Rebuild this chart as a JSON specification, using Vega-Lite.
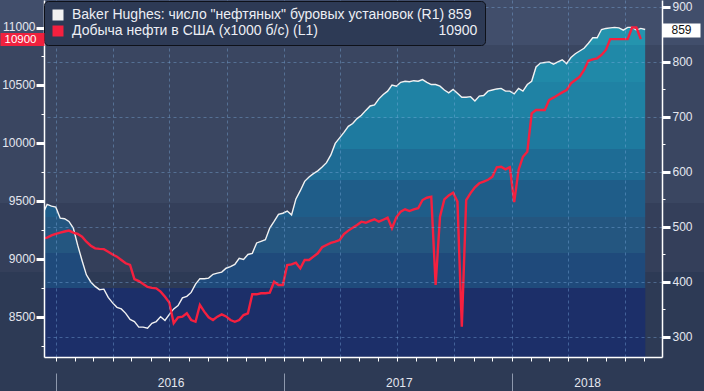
{
  "$schema": "https://vega.github.io/schema/vega-lite/v6.json",
  "width": 618,
  "height": 357,
  "autosize": {"type": "none"},
  "padding": {"left": 44, "top": 0, "right": 42, "bottom": 34},
  "background": "#2d3a55",
  "data": {
    "values": [
      {"date": "2015-12-11", "rigs": 524, "prod": 9180},
      {"date": "2015-12-18", "rigs": 541, "prod": 9185},
      {"date": "2015-12-25", "rigs": 538, "prod": 9205},
      {"date": "2016-01-01", "rigs": 536, "prod": 9218},
      {"date": "2016-01-08", "rigs": 516, "prod": 9228},
      {"date": "2016-01-15", "rigs": 515, "prod": 9238},
      {"date": "2016-01-22", "rigs": 510, "prod": 9246},
      {"date": "2016-01-29", "rigs": 498, "prod": 9228},
      {"date": "2016-02-05", "rigs": 467, "prod": 9217},
      {"date": "2016-02-12", "rigs": 439, "prod": 9194},
      {"date": "2016-02-19", "rigs": 413, "prod": 9150},
      {"date": "2016-02-26", "rigs": 400, "prod": 9116},
      {"date": "2016-03-04", "rigs": 392, "prod": 9093},
      {"date": "2016-03-11", "rigs": 386, "prod": 9088},
      {"date": "2016-03-18", "rigs": 387, "prod": 9086},
      {"date": "2016-03-25", "rigs": 372, "prod": 9064},
      {"date": "2016-04-01", "rigs": 362, "prod": 9040},
      {"date": "2016-04-08", "rigs": 354, "prod": 9021},
      {"date": "2016-04-15", "rigs": 351, "prod": 8992},
      {"date": "2016-04-22", "rigs": 343, "prod": 8964},
      {"date": "2016-04-29", "rigs": 332, "prod": 8949},
      {"date": "2016-05-06", "rigs": 328, "prod": 8828},
      {"date": "2016-05-13", "rigs": 318, "prod": 8810},
      {"date": "2016-05-20", "rigs": 318, "prod": 8785},
      {"date": "2016-05-27", "rigs": 316, "prod": 8760},
      {"date": "2016-06-03", "rigs": 325, "prod": 8752},
      {"date": "2016-06-10", "rigs": 328, "prod": 8748},
      {"date": "2016-06-17", "rigs": 337, "prod": 8719},
      {"date": "2016-06-24", "rigs": 330, "prod": 8675},
      {"date": "2016-07-01", "rigs": 341, "prod": 8624},
      {"date": "2016-07-08", "rigs": 351, "prod": 8446},
      {"date": "2016-07-15", "rigs": 357, "prod": 8497},
      {"date": "2016-07-22", "rigs": 371, "prod": 8503},
      {"date": "2016-07-29", "rigs": 374, "prod": 8532},
      {"date": "2016-08-05", "rigs": 381, "prod": 8474},
      {"date": "2016-08-12", "rigs": 396, "prod": 8459},
      {"date": "2016-08-19", "rigs": 406, "prod": 8604},
      {"date": "2016-08-26", "rigs": 406, "prod": 8546},
      {"date": "2016-09-02", "rigs": 407, "prod": 8497},
      {"date": "2016-09-09", "rigs": 414, "prod": 8474},
      {"date": "2016-09-16", "rigs": 416, "prod": 8503},
      {"date": "2016-09-23", "rigs": 418, "prod": 8523},
      {"date": "2016-09-30", "rigs": 425, "prod": 8505},
      {"date": "2016-10-07", "rigs": 428, "prod": 8474},
      {"date": "2016-10-14", "rigs": 432, "prod": 8459},
      {"date": "2016-10-21", "rigs": 443, "prod": 8474},
      {"date": "2016-10-28", "rigs": 441, "prod": 8517},
      {"date": "2016-11-04", "rigs": 450, "prod": 8532},
      {"date": "2016-11-11", "rigs": 452, "prod": 8696},
      {"date": "2016-11-18", "rigs": 471, "prod": 8696},
      {"date": "2016-11-25", "rigs": 474, "prod": 8705},
      {"date": "2016-12-02", "rigs": 477, "prod": 8705},
      {"date": "2016-12-09", "rigs": 498, "prod": 8710},
      {"date": "2016-12-16", "rigs": 510, "prod": 8805},
      {"date": "2016-12-23", "rigs": 523, "prod": 8776},
      {"date": "2016-12-30", "rigs": 525, "prod": 8776},
      {"date": "2017-01-06", "rigs": 529, "prod": 8949},
      {"date": "2017-01-13", "rigs": 522, "prod": 8955},
      {"date": "2017-01-20", "rigs": 551, "prod": 8969},
      {"date": "2017-01-27", "rigs": 566, "prod": 8920},
      {"date": "2017-02-03", "rigs": 583, "prod": 8992},
      {"date": "2017-02-10", "rigs": 591, "prod": 8992},
      {"date": "2017-02-17", "rigs": 597, "prod": 9021},
      {"date": "2017-02-24", "rigs": 602, "prod": 9050},
      {"date": "2017-03-03", "rigs": 609, "prod": 9102},
      {"date": "2017-03-10", "rigs": 617, "prod": 9122},
      {"date": "2017-03-17", "rigs": 631, "prod": 9140},
      {"date": "2017-03-24", "rigs": 652, "prod": 9150},
      {"date": "2017-03-31", "rigs": 662, "prod": 9165},
      {"date": "2017-04-07", "rigs": 672, "prod": 9217},
      {"date": "2017-04-14", "rigs": 683, "prod": 9246},
      {"date": "2017-04-21", "rigs": 688, "prod": 9271},
      {"date": "2017-04-28", "rigs": 697, "prod": 9294},
      {"date": "2017-05-05", "rigs": 703, "prod": 9323},
      {"date": "2017-05-12", "rigs": 712, "prod": 9314},
      {"date": "2017-05-19", "rigs": 720, "prod": 9330},
      {"date": "2017-05-26", "rigs": 722, "prod": 9344},
      {"date": "2017-06-02", "rigs": 733, "prod": 9323},
      {"date": "2017-06-09", "rigs": 741, "prod": 9340},
      {"date": "2017-06-16", "rigs": 747, "prod": 9358},
      {"date": "2017-06-23", "rigs": 758, "prod": 9266},
      {"date": "2017-06-30", "rigs": 756, "prod": 9361},
      {"date": "2017-07-07", "rigs": 763, "prod": 9410},
      {"date": "2017-07-14", "rigs": 765, "prod": 9430},
      {"date": "2017-07-21", "rigs": 764, "prod": 9415},
      {"date": "2017-07-28", "rigs": 766, "prod": 9430},
      {"date": "2017-08-04", "rigs": 765, "prod": 9439},
      {"date": "2017-08-11", "rigs": 768, "prod": 9510},
      {"date": "2017-08-18", "rigs": 763, "prod": 9530},
      {"date": "2017-08-25", "rigs": 759, "prod": 9539},
      {"date": "2017-09-01", "rigs": 759, "prod": 8776},
      {"date": "2017-09-08", "rigs": 756, "prod": 9366},
      {"date": "2017-09-15", "rigs": 749, "prod": 9516},
      {"date": "2017-09-22", "rigs": 744, "prod": 9550},
      {"date": "2017-09-29", "rigs": 750, "prod": 9573},
      {"date": "2017-10-06", "rigs": 743, "prod": 9496},
      {"date": "2017-10-13", "rigs": 736, "prod": 8416},
      {"date": "2017-10-20", "rigs": 736, "prod": 9510},
      {"date": "2017-10-27", "rigs": 737, "prod": 9570},
      {"date": "2017-11-03", "rigs": 729, "prod": 9620},
      {"date": "2017-11-10", "rigs": 738, "prod": 9655},
      {"date": "2017-11-17", "rigs": 739, "prod": 9670},
      {"date": "2017-11-24", "rigs": 747, "prod": 9685},
      {"date": "2017-12-01", "rigs": 749, "prod": 9712},
      {"date": "2017-12-08", "rigs": 751, "prod": 9793},
      {"date": "2017-12-15", "rigs": 752, "prod": 9798},
      {"date": "2017-12-22", "rigs": 747, "prod": 9775},
      {"date": "2017-12-29", "rigs": 747, "prod": 9793},
      {"date": "2018-01-05", "rigs": 742, "prod": 9492},
      {"date": "2018-01-12", "rigs": 752, "prod": 9770},
      {"date": "2018-01-19", "rigs": 747, "prod": 9884},
      {"date": "2018-01-26", "rigs": 759, "prod": 9927},
      {"date": "2018-02-02", "rigs": 765, "prod": 10259},
      {"date": "2018-02-09", "rigs": 791, "prod": 10288},
      {"date": "2018-02-16", "rigs": 798, "prod": 10288},
      {"date": "2018-02-23", "rigs": 799, "prod": 10288},
      {"date": "2018-03-02", "rigs": 800, "prod": 10374},
      {"date": "2018-03-09", "rigs": 796, "prod": 10394},
      {"date": "2018-03-16", "rigs": 800, "prod": 10417},
      {"date": "2018-03-23", "rigs": 804, "prod": 10440},
      {"date": "2018-03-30", "rigs": 797, "prod": 10460},
      {"date": "2018-04-06", "rigs": 808, "prod": 10518},
      {"date": "2018-04-13", "rigs": 815, "prod": 10547},
      {"date": "2018-04-20", "rigs": 820, "prod": 10575},
      {"date": "2018-04-27", "rigs": 825, "prod": 10633},
      {"date": "2018-05-04", "rigs": 834, "prod": 10713},
      {"date": "2018-05-11", "rigs": 844, "prod": 10725},
      {"date": "2018-05-18", "rigs": 844, "prod": 10734},
      {"date": "2018-05-25", "rigs": 859, "prod": 10763},
      {"date": "2018-06-01", "rigs": 861, "prod": 10806},
      {"date": "2018-06-08", "rigs": 862, "prod": 10900},
      {"date": "2018-06-15", "rigs": 863, "prod": 10900},
      {"date": "2018-06-22", "rigs": 862, "prod": 10900},
      {"date": "2018-06-29", "rigs": 858, "prod": 10900},
      {"date": "2018-07-06", "rigs": 863, "prod": 10900},
      {"date": "2018-07-13", "rigs": 863, "prod": 11000},
      {"date": "2018-07-20", "rigs": 858, "prod": 11000},
      {"date": "2018-07-27", "rigs": 861, "prod": 10900},
      {"date": "2018-08-03", "rigs": 859, "prod": null}
    ]
  },
  "layer": [
    {
      "data": {"values": [{"k": 1}]},
      "mark": {
        "type": "rect",
        "clip": false,
        "fill": {
          "gradient": "linear", "x1": 0, "y1": 0, "x2": 0, "y2": 1,
          "stops": [
            {"offset": 0, "color": "#414e6b"},
            {"offset": 0.1151, "color": "#414e6b"},
            {"offset": 0.1151, "color": "#3a4661"},
            {"offset": 0.5192, "color": "#3a4661"},
            {"offset": 0.5192, "color": "#343f5a"},
            {"offset": 0.6957, "color": "#343f5a"},
            {"offset": 0.6957, "color": "#2d3a55"},
            {"offset": 1, "color": "#2d3a55"}
          ]
        }
      },
      "encoding": {
        "x": {"datum": {"year": 2015, "month": 9, "date": 1}, "type": "temporal", "scale": {"domain": [{"year": 2015, "month": 12, "date": 13}, {"year": 2018, "month": 8, "date": 30}]}, "axis": null},
        "x2": {"datum": {"year": 2019, "month": 3, "date": 1}},
        "y": {"datum": -34, "type": "quantitative", "scale": {"domain": [0, 357], "nice": false, "zero": false}, "axis": null},
        "y2": {"datum": 357}
      }
    },
    {
      "layer": [
        {
          "mark": {
            "type": "area",
            "clip": true,
            "fill": {
              "gradient": "linear", "x1": 0, "y1": 0, "x2": 0, "y2": 1,
              "stops": [
                {"offset": 0, "color": "#2494ae"},
                {"offset": 0.0535, "color": "#2494ae"},
                {"offset": 0.0535, "color": "#2089a8"},
                {"offset": 0.1658, "color": "#2089a8"},
                {"offset": 0.1658, "color": "#1f82a4"},
                {"offset": 0.275, "color": "#1f82a4"},
                {"offset": 0.275, "color": "#1e7a9f"},
                {"offset": 0.3691, "color": "#1e7a9f"},
                {"offset": 0.3691, "color": "#1e6c95"},
                {"offset": 0.4631, "color": "#1e6c95"},
                {"offset": 0.4631, "color": "#1f5d89"},
                {"offset": 0.5753, "color": "#1f5d89"},
                {"offset": 0.5753, "color": "#245680"},
                {"offset": 0.6845, "color": "#245680"},
                {"offset": 0.6845, "color": "#1f4a7b"},
                {"offset": 0.7907, "color": "#1f4a7b"},
                {"offset": 0.7907, "color": "#1c2f69"},
                {"offset": 1, "color": "#1c2f69"}
              ]
            }
          },
          "encoding": {
            "x": {
              "field": "date", "type": "temporal",
              "scale": {"domain": [{"year": 2015, "month": 12, "date": 13}, {"year": 2018, "month": 8, "date": 30}]},
              "axis": {
                "orient": "bottom", "title": null, "labels": false, "zindex": 1,
                "tickCount": {"interval": "month", "step": 1},
                "tickSize": 4, "tickWidth": 1, "tickColor": "#ffffff",
                "domain": true, "domainColor": "#ffffff", "domainWidth": 1.5,
                "grid": true, "gridDash": [3, 3], "gridColor": "#7fb0e0", "gridWidth": 1,
                "gridOpacity": {"condition": {"test": "month(datum.value) % 3 == 0", "value": 0.4}, "value": 0}
              }
            },
            "y": {
              "field": "rigs", "type": "quantitative",
              "scale": {"domain": [263.6, 912.7], "nice": false, "zero": false},
              "axis": {
                "orient": "right", "title": null, "zindex": 1,
                "values": [300, 350, 400, 450, 500, 550, 600, 650, 700, 750, 800, 850, 900],
                "labelExpr": "datum.value % 100 == 0 ? datum.label : ''",
                "tickSize": {"condition": {"test": "datum.value % 100 == 0", "value": 8}, "value": 3},
                "tickWidth": {"condition": {"test": "datum.value % 100 == 0", "value": 3}, "value": 1},
                "tickColor": "#ffffff",
                "labelPadding": 2,
                "domain": true, "domainColor": "#ffffff", "domainWidth": 1.5,
                "grid": true, "gridDash": [3, 3], "gridColor": "#7fb0e0", "gridWidth": 1,
                "gridOpacity": {"condition": {"test": "datum.value % 100 == 0", "value": 0.4}, "value": 0}
              }
            },
            "y2": {"datum": 263.6}
          }
        },
        {
          "mark": {"type": "area", "clip": true, "fill": "#1c2f69"},
          "encoding": {
            "x": {"field": "date", "type": "temporal", "axis": null},
            "y": {"datum": 389.1, "type": "quantitative", "axis": null},
            "y2": {"datum": 263.6}
          }
        },
        {
          "mark": {"type": "line", "clip": true, "strokeWidth": 1.4},
          "encoding": {
            "x": {"field": "date", "type": "temporal", "axis": null},
            "y": {
              "field": "rigs", "type": "quantitative",
              "axis": {
                "orient": "right", "title": null, "values": [859],
                "domain": false, "grid": false,
                "tickSize": 38, "tickWidth": 14, "tickColor": "#ffffff",
                "labelColor": "#111111", "labelPadding": -29, "zindex": 3
              }
            },
            "color": {
              "datum": "Baker Hughes: число \"нефтяных\" буровых установок (R1) 859",
              "type": "nominal",
              "scale": {
                "domain": ["Baker Hughes: число \"нефтяных\" буровых установок (R1) 859", "Добыча нефти в США (x1000 б/с) (L1)\u00a0\u00a0\u00a0\u00a0\u00a0\u00a0\u00a0\u00a0\u00a0\u00a0\u00a0\u00a0\u00a0\u00a0\u00a0\u00a0\u00a0\u00a0\u00a0\u00a0\u00a0\u00a0\u00a0\u00a0\u00a0\u00a0\u00a0\u00a0\u00a0\u00a0\u00a010900"],
                "range": ["#f2f2f2", "#f5203f"]
              },
              "legend": {
                "encode": {"symbols": {"update": {"fill": {"scale": "color", "field": "value"}, "fillOpacity": {"value": 1}, "strokeWidth": {"value": 0}}}}
              }
            }
          }
        }
      ],
      "resolve": {"axis": {"y": "independent", "x": "independent"}}
    },
    {
      "layer": [
        {
          "mark": {"type": "line", "clip": true, "strokeWidth": 2.4},
          "encoding": {
            "x": {
              "field": "date", "type": "temporal",
              "scale": {"domain": [{"year": 2015, "month": 12, "date": 13}, {"year": 2018, "month": 8, "date": 30}]},
              "axis": {
                "orient": "bottom", "title": null, "offset": 16, "zindex": 1,
                "values": [
                  {"year": 2016, "month": 1, "date": 1},
                  {"year": 2016, "month": 7, "date": 3},
                  {"year": 2017, "month": 1, "date": 1},
                  {"year": 2017, "month": 7, "date": 4},
                  {"year": 2018, "month": 1, "date": 1},
                  {"year": 2018, "month": 5, "date": 2}
                ],
                "domain": false, "grid": false,
                "tickSize": 18, "tickWidth": 1, "tickColor": "#8d98ad",
                "tickOpacity": {"condition": {"test": "month(datum.value) == 0", "value": 1}, "value": 0},
                "labelExpr": "month(datum.value) == 0 ? '' : timeFormat(datum.value, '%Y')",
                "labelPadding": -14
              }
            },
            "y": {
              "field": "prod", "type": "quantitative",
              "scale": {"domain": [8154.6, 11237.5], "nice": false, "zero": false},
              "axis": {
                "orient": "left", "title": null, "zindex": 1,
                "values": [8250, 8500, 8750, 9000, 9250, 9500, 9750, 10000, 10250, 10500, 10750, 11000],
                "labelExpr": "datum.value % 500 == 0 ? format(datum.value, 'd') : ''",
                "tickSize": {"condition": {"test": "datum.value % 500 == 0", "value": 8}, "value": 3},
                "tickWidth": {"condition": {"test": "datum.value % 500 == 0", "value": 3}, "value": 1},
                "tickColor": "#ffffff",
                "labelPadding": 1,
                "labelOffset": -1,
                "domain": true, "domainColor": "#ffffff", "domainWidth": 1.5,
                "grid": false
              }
            },
            "color": {
              "datum": "Добыча нефти в США (x1000 б/с) (L1)\u00a0\u00a0\u00a0\u00a0\u00a0\u00a0\u00a0\u00a0\u00a0\u00a0\u00a0\u00a0\u00a0\u00a0\u00a0\u00a0\u00a0\u00a0\u00a0\u00a0\u00a0\u00a0\u00a0\u00a0\u00a0\u00a0\u00a0\u00a0\u00a0\u00a0\u00a010900",
              "type": "nominal",
              "legend": {
                "encode": {"symbols": {"update": {"fill": {"scale": "color", "field": "value"}, "fillOpacity": {"value": 1}, "strokeWidth": {"value": 0}}}}
              }
            }
          }
        },
        {
          "mark": {"type": "line", "clip": true, "strokeOpacity": 0},
          "encoding": {
            "x": {"field": "date", "type": "temporal", "axis": null},
            "y": {
              "field": "prod", "type": "quantitative",
              "axis": {
                "orient": "left", "title": null, "values": [10900], "format": "d",
                "domain": false, "grid": false,
                "tickSize": 44, "tickWidth": 13, "tickColor": "#f0213e",
                "labelColor": "#ffffff", "labelPadding": -36, "labelFontSize": 11.5, "zindex": 3
              }
            }
          }
        }
      ],
      "resolve": {"axis": {"y": "independent", "x": "independent"}}
    }
  ],
  "resolve": {"scale": {"y": "independent"}, "axis": {"y": "independent", "x": "independent"}},
  "config": {
    "view": {"stroke": null},
    "axis": {
      "labelFont": "Liberation Sans",
      "labelFontSize": 12,
      "labelColor": "#e4e7ef",
      "labelOverlap": false,
      "labelFlush": false,
      "labelBound": false
    },
    "legend": {
      "orient": "none",
      "legendX": 0,
      "legendY": 1,
      "direction": "vertical",
      "title": null,
      "fillColor": "#2d3a55",
      "strokeColor": "#0e1119",
      "cornerRadius": 4,
      "padding": 7,
      "symbolType": "square",
      "symbolSize": 121,
      "symbolStrokeWidth": 0,
      "labelFont": "Liberation Sans",
      "labelFontSize": 14,
      "labelColor": "#eceef4",
      "labelOffset": 7,
      "labelLimit": 600,
      "rowPadding": 2,
      "zindex": 2
    }
  }
}
